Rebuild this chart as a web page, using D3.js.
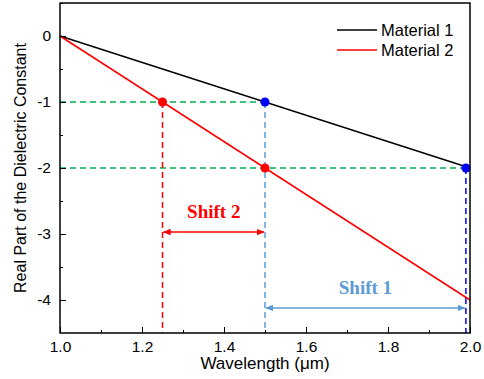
<!DOCTYPE html>
<html>
<head>
<meta charset="utf-8">
<script src="https://cdn.jsdelivr.net/npm/d3@7"></script>
<style>
body { margin: 0; background: #fff; }
text { font-family: "Liberation Sans", Arial, sans-serif; }
</style>
</head>
<body>
<div id="chart"></div>
<script>
// data
var seriesNames = ["Material 1", "Material 2"];
var material1 = [[1.0, 0], [2.0, -2]];
var material2 = [[1.0, 0], [2.0, -4]];
var bluePoints = [[1.5, -1], [1.99, -2]];
var redPoints = [[1.25, -1], [1.5, -2]];
var xTicks = [1.0, 1.2, 1.4, 1.6, 1.8, 2.0];
var yTicks = [0, -1, -2, -3, -4];
var shift1 = {from: 1.5, to: 1.99, y: -4.12, label: "Shift 1"};
var shift2 = {from: 1.25, to: 1.5, y: -2.97, label: "Shift 2"};

var width = 484, height = 379;
var margin = {top: 3, right: 14, bottom: 46, left: 60};

var svg = d3.select("#chart").append("svg")
    .attr("width", width)
    .attr("height", height);

var x = d3.scaleLinear().domain([1.0, 2.0]).range([margin.left, width - margin.right]);
var y = d3.scaleLinear().domain([-4.5, 0.5]).range([height - margin.bottom, margin.top]);

// arrow markers
var defs = svg.append("defs");
function addMarker(id, color) {
    defs.append("marker")
        .attr("id", id)
        .attr("viewBox", "0 0 10 10")
        .attr("refX", 9).attr("refY", 5)
        .attr("markerWidth", 8).attr("markerHeight", 8)
        .attr("orient", "auto-start-reverse")
        .attr("markerUnits", "userSpaceOnUse")
        .append("path")
        .attr("d", "M0,1 L10,5 L0,9 Z")
        .attr("fill", color);
}
addMarker("arrRed", "#ff0000");
addMarker("arrBlue", "#5b9bd5");

// dashed guides
var dash = "6,4";
function dashed(x1, y1, x2, y2, color) {
    svg.append("line")
        .attr("x1", x(x1)).attr("y1", y(y1))
        .attr("x2", x(x2)).attr("y2", y(y2))
        .attr("stroke", color)
        .attr("stroke-width", 1.5)
        .attr("stroke-dasharray", dash);
}
dashed(1.0, -1, 1.5, -1, "#00b050");
dashed(1.0, -2, 1.99, -2, "#00b050");
dashed(1.25, -1, 1.25, -4.5, "#ff0000");
dashed(1.5, -1, 1.5, -4.5, "#5b9bd5");
dashed(1.99, -2, 1.99, -4.5, "#0000ff");

// lines
var line = d3.line().x(d => x(d[0])).y(d => y(d[1]));
svg.append("path").datum(material1)
    .attr("d", line).attr("fill", "none")
    .attr("stroke", "#000").attr("stroke-width", 1.5);
svg.append("path").datum(material2)
    .attr("d", line).attr("fill", "none")
    .attr("stroke", "#ff0000").attr("stroke-width", 1.5);

// points
svg.selectAll(".bp").data(bluePoints).enter().append("circle")
    .attr("cx", d => x(d[0])).attr("cy", d => y(d[1]))
    .attr("r", 4.5).attr("fill", "#0000ff");
svg.selectAll(".rp").data(redPoints).enter().append("circle")
    .attr("cx", d => x(d[0])).attr("cy", d => y(d[1]))
    .attr("r", 4.5).attr("fill", "#ff0000");

// shift arrows
function shiftArrow(s, color, markerId) {
    svg.append("line")
        .attr("x1", x(s.from) + 1).attr("y1", y(s.y))
        .attr("x2", x(s.to) - 1).attr("y2", y(s.y))
        .attr("stroke", color).attr("stroke-width", 1.5)
        .attr("marker-start", "url(#" + markerId + ")")
        .attr("marker-end", "url(#" + markerId + ")");
    svg.append("text")
        .attr("x", (x(s.from) + x(s.to)) / 2)
        .attr("y", y(s.y) - 14)
        .attr("text-anchor", "middle")
        .style("font-family", "'Liberation Serif', 'Times New Roman', serif")
        .style("font-weight", "bold")
        .style("font-size", "19px")
        .attr("fill", color)
        .text(s.label);
}
shiftArrow(shift2, "#ff0000", "arrRed");
shiftArrow(shift1, "#5b9bd5", "arrBlue");

// axes (ticks inward)
var plotH = height - margin.bottom - margin.top;
var plotW = width - margin.right - margin.left;

svg.append("g").attr("transform", `translate(0, ${height - margin.bottom})`)
    .call(d3.axisBottom(x).tickValues(xTicks).tickFormat(d3.format(".1f")).tickSizeInner(-6).tickSizeOuter(0).tickPadding(8));
svg.append("g").attr("transform", `translate(0, ${height - margin.bottom})`)
    .call(d3.axisBottom(x).tickValues(d3.range(1.1, 2.0, 0.2)).tickFormat("").tickSizeInner(-3).tickSizeOuter(0));

svg.append("g").attr("transform", `translate(${margin.left}, 0)`)
    .call(d3.axisLeft(y).tickValues(yTicks).tickFormat(d => String(d)).tickSizeInner(-6).tickSizeOuter(0).tickPadding(9));
svg.append("g").attr("transform", `translate(${margin.left}, 0)`)
    .call(d3.axisLeft(y).tickValues([0.5, -0.5, -1.5, -2.5, -3.5]).tickFormat("").tickSizeInner(-3).tickSizeOuter(0));

svg.selectAll(".tick text").style("font-size", "15.5px").attr("fill", "#000");
svg.selectAll(".domain").attr("stroke", "none");

// frame
svg.append("rect")
    .attr("x", margin.left).attr("y", margin.top)
    .attr("width", plotW).attr("height", plotH)
    .attr("fill", "none").attr("stroke", "#000").attr("stroke-width", 1.5);

// legend
var legend = svg.append("g");
var legendColors = ["#000", "#ff0000"];
seriesNames.forEach(function(name, i) {
    var ly = 30 + i * 20;
    legend.append("line")
        .attr("x1", 337).attr("x2", 377)
        .attr("y1", ly).attr("y2", ly)
        .attr("stroke", legendColors[i]).attr("stroke-width", 1.5);
    legend.append("text")
        .attr("x", 381).attr("y", ly + 6)
        .style("font-size", "16.5px")
        .text(name);
});

// axis labels
svg.append("text")
    .attr("x", (margin.left + width - margin.right) / 2)
    .attr("y", 369)
    .attr("text-anchor", "middle")
    .style("font-size", "17px")
    .text("Wavelength (\u03bcm)");

svg.append("text")
    .attr("transform", `translate(26, ${margin.top + plotH / 2}) rotate(-90)`)
    .attr("text-anchor", "middle")
    .style("font-size", "16px")
    .text("Real Part of the Dielectric Constant");
</script>
</body>
</html>
